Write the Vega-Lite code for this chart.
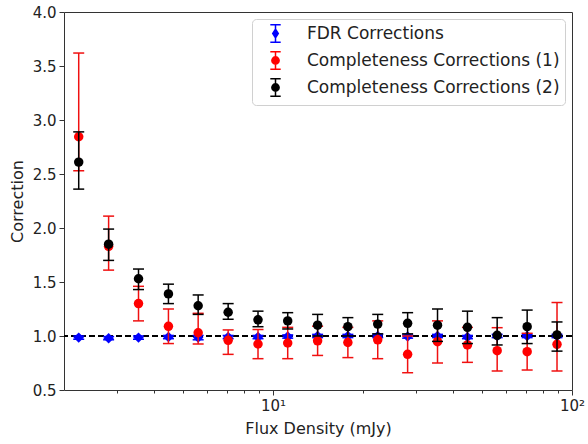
{
  "$schema": "https://vega.github.io/schema/vega-lite/v6.json",
  "width": 508,
  "height": 378,
  "autosize": {"type": "none"},
  "padding": {"left": 64, "top": 12, "right": 16, "bottom": 54},
  "background": "white",
  "config": {
    "font": "DejaVu Sans",
    "view": {"stroke": "#333", "strokeWidth": 1},
    "axis": {"labelFontSize": 15, "titleFontSize": 16, "titleFontWeight": "normal", "labelColor": "#222", "titleColor": "#222", "tickColor": "#333", "domain": false, "grid": false, "labelFont": "DejaVu Sans", "titleFont": "DejaVu Sans"},
    "legend": {"orient": "top-right", "offset": 7, "labelFontSize": 17, "labelFont": "DejaVu Sans", "labelColor": "#222", "symbolSize": 300, "symbolStrokeWidth": 1.5, "strokeColor": "#d0d0d0", "fillColor": "white", "cornerRadius": 4, "padding": 5, "rowPadding": 2, "symbolOffset": 9, "labelOffset": 22, "labelLimit": 400, "symbolOpacity": 1}
  },
  "data": {"values": [
    {"series": "FDR Corrections", "x": 2.24, "y": 0.985, "lo": 0.97, "hi": 1.0},
    {"series": "FDR Corrections", "x": 2.82, "y": 0.98, "lo": 0.965, "hi": 0.995},
    {"series": "FDR Corrections", "x": 3.55, "y": 0.985, "lo": 0.97, "hi": 1.0},
    {"series": "FDR Corrections", "x": 4.47, "y": 0.99, "lo": 0.975, "hi": 1.005},
    {"series": "FDR Corrections", "x": 5.62, "y": 0.985, "lo": 0.965, "hi": 1.005},
    {"series": "FDR Corrections", "x": 7.08, "y": 0.99, "lo": 0.975, "hi": 1.005},
    {"series": "FDR Corrections", "x": 8.91, "y": 0.99, "lo": 0.975, "hi": 1.005},
    {"series": "FDR Corrections", "x": 11.2, "y": 0.995, "lo": 0.98, "hi": 1.01},
    {"series": "FDR Corrections", "x": 14.1, "y": 1.0, "lo": 0.985, "hi": 1.015},
    {"series": "FDR Corrections", "x": 17.8, "y": 1.0, "lo": 0.985, "hi": 1.015},
    {"series": "FDR Corrections", "x": 22.4, "y": 1.0, "lo": 0.985, "hi": 1.015},
    {"series": "FDR Corrections", "x": 28.2, "y": 0.995, "lo": 0.98, "hi": 1.01},
    {"series": "FDR Corrections", "x": 35.5, "y": 1.0, "lo": 0.985, "hi": 1.015},
    {"series": "FDR Corrections", "x": 44.7, "y": 0.99, "lo": 0.975, "hi": 1.005},
    {"series": "FDR Corrections", "x": 56.2, "y": 1.0, "lo": 0.985, "hi": 1.015},
    {"series": "FDR Corrections", "x": 70.8, "y": 1.0, "lo": 0.985, "hi": 1.015},
    {"series": "FDR Corrections", "x": 89.1, "y": 1.0, "lo": 0.985, "hi": 1.015},
    {"series": "Completeness Corrections (1)", "x": 2.24, "y": 2.845, "lo": 2.53, "hi": 3.62},
    {"series": "Completeness Corrections (1)", "x": 2.82, "y": 1.83, "lo": 1.61, "hi": 2.11},
    {"series": "Completeness Corrections (1)", "x": 3.55, "y": 1.3, "lo": 1.14, "hi": 1.46},
    {"series": "Completeness Corrections (1)", "x": 4.47, "y": 1.09, "lo": 0.93, "hi": 1.25},
    {"series": "Completeness Corrections (1)", "x": 5.62, "y": 1.03, "lo": 0.926, "hi": 1.21},
    {"series": "Completeness Corrections (1)", "x": 7.08, "y": 0.96, "lo": 0.83, "hi": 1.056},
    {"series": "Completeness Corrections (1)", "x": 8.91, "y": 0.926, "lo": 0.79, "hi": 1.06},
    {"series": "Completeness Corrections (1)", "x": 11.2, "y": 0.935, "lo": 0.79, "hi": 1.08},
    {"series": "Completeness Corrections (1)", "x": 14.1, "y": 0.955, "lo": 0.82, "hi": 1.09},
    {"series": "Completeness Corrections (1)", "x": 17.8, "y": 0.94, "lo": 0.8, "hi": 1.08},
    {"series": "Completeness Corrections (1)", "x": 22.4, "y": 0.965, "lo": 0.79, "hi": 1.14},
    {"series": "Completeness Corrections (1)", "x": 28.2, "y": 0.83, "lo": 0.66, "hi": 1.0},
    {"series": "Completeness Corrections (1)", "x": 35.5, "y": 0.947, "lo": 0.75, "hi": 1.14},
    {"series": "Completeness Corrections (1)", "x": 44.7, "y": 0.917, "lo": 0.756, "hi": 1.08},
    {"series": "Completeness Corrections (1)", "x": 56.2, "y": 0.864, "lo": 0.676, "hi": 1.077},
    {"series": "Completeness Corrections (1)", "x": 70.8, "y": 0.855, "lo": 0.685, "hi": 1.025},
    {"series": "Completeness Corrections (1)", "x": 89.1, "y": 0.923, "lo": 0.676, "hi": 1.31},
    {"series": "Completeness Corrections (2)", "x": 2.24, "y": 2.61, "lo": 2.36, "hi": 2.89},
    {"series": "Completeness Corrections (2)", "x": 2.82, "y": 1.85, "lo": 1.7, "hi": 1.99},
    {"series": "Completeness Corrections (2)", "x": 3.55, "y": 1.53, "lo": 1.43, "hi": 1.62},
    {"series": "Completeness Corrections (2)", "x": 4.47, "y": 1.39, "lo": 1.3, "hi": 1.48},
    {"series": "Completeness Corrections (2)", "x": 5.62, "y": 1.28, "lo": 1.2, "hi": 1.38},
    {"series": "Completeness Corrections (2)", "x": 7.08, "y": 1.22, "lo": 1.155, "hi": 1.3},
    {"series": "Completeness Corrections (2)", "x": 8.91, "y": 1.15, "lo": 1.086, "hi": 1.23},
    {"series": "Completeness Corrections (2)", "x": 11.2, "y": 1.14, "lo": 1.065, "hi": 1.216},
    {"series": "Completeness Corrections (2)", "x": 14.1, "y": 1.1, "lo": 1.0, "hi": 1.2},
    {"series": "Completeness Corrections (2)", "x": 17.8, "y": 1.086, "lo": 1.0, "hi": 1.17},
    {"series": "Completeness Corrections (2)", "x": 22.4, "y": 1.11, "lo": 1.02, "hi": 1.2},
    {"series": "Completeness Corrections (2)", "x": 28.2, "y": 1.117, "lo": 1.02, "hi": 1.216},
    {"series": "Completeness Corrections (2)", "x": 35.5, "y": 1.1, "lo": 0.95, "hi": 1.25},
    {"series": "Completeness Corrections (2)", "x": 44.7, "y": 1.08, "lo": 0.93, "hi": 1.23},
    {"series": "Completeness Corrections (2)", "x": 56.2, "y": 1.006, "lo": 0.917, "hi": 1.17},
    {"series": "Completeness Corrections (2)", "x": 70.8, "y": 1.086, "lo": 0.93, "hi": 1.24},
    {"series": "Completeness Corrections (2)", "x": 89.1, "y": 1.01, "lo": 0.86, "hi": 1.13}
  ]},
  "layer": [
    {
      "mark": {"type": "rule", "color": "black", "strokeDash": [6, 3], "strokeWidth": 1.8},
      "encoding": {"y": {"datum": 1, "type": "quantitative"}}
    },
    {
      "encoding": {
        "x": {"field": "x", "type": "quantitative", "title": "Flux Density (mJy)",
          "scale": {"type": "log", "domain": [2, 100], "nice": false},
          "axis": {"values": [3, 4, 5, 6, 7, 8, 9, 10, 20, 30, 40, 50, 60, 70, 80, 90, 100],
            "labelExpr": "datum.value == 10 ? '10¹' : (datum.value == 100 ? '10²' : '')",
            "tickSize": {"condition": {"test": "datum.value == 10 || datum.value == 100", "value": 5}, "value": 3},
            "labelPadding": 3, "titlePadding": 7, "labelFlush": false, "labelOverlap": false}},
        "y": {"field": "y", "type": "quantitative", "title": "Correction",
          "scale": {"domain": [0.5, 4.0], "nice": false, "zero": false},
          "axis": {"values": [0.5, 1.0, 1.5, 2.0, 2.5, 3.0, 3.5, 4.0], "format": ".1f", "tickSize": 5, "labelPadding": 3, "titlePadding": 7, "labelFlush": false}}
      },
      "layer": [
        {
          "transform": [{"filter": "datum.series == 'FDR Corrections'"}],
          "layer": [
            {"mark": {"type": "rule", "color": "#0000ff", "strokeWidth": 1.5}, "encoding": {"y": {"field": "lo", "type": "quantitative", "title": "Correction"}, "y2": {"field": "hi"}}},
            {"mark": {"type": "tick", "orient": "horizontal", "color": "#0000ff", "size": 11, "thickness": 1.5, "opacity": 1}, "encoding": {"y": {"field": "lo", "type": "quantitative", "title": "Correction"}}},
            {"mark": {"type": "tick", "orient": "horizontal", "color": "#0000ff", "size": 11, "thickness": 1.5, "opacity": 1}, "encoding": {"y": {"field": "hi", "type": "quantitative", "title": "Correction"}}},
            {"mark": {"type": "point", "shape": "diamond", "filled": true, "color": "#0000ff", "size": 110, "opacity": 1}}
          ]
        },
        {
          "transform": [{"filter": "datum.series == 'Completeness Corrections (1)'"}],
          "layer": [
            {"mark": {"type": "rule", "color": "#f01010", "strokeWidth": 1.5}, "encoding": {"y": {"field": "lo", "type": "quantitative", "title": "Correction"}, "y2": {"field": "hi"}}},
            {"mark": {"type": "tick", "orient": "horizontal", "color": "#f01010", "size": 11, "thickness": 1.5, "opacity": 1}, "encoding": {"y": {"field": "lo", "type": "quantitative", "title": "Correction"}}},
            {"mark": {"type": "tick", "orient": "horizontal", "color": "#f01010", "size": 11, "thickness": 1.5, "opacity": 1}, "encoding": {"y": {"field": "hi", "type": "quantitative", "title": "Correction"}}},
            {"mark": {"type": "point", "shape": "circle", "filled": true, "color": "#ff0000", "size": 90, "opacity": 1}}
          ]
        },
        {
          "transform": [{"filter": "datum.series == 'Completeness Corrections (2)'"}],
          "layer": [
            {"mark": {"type": "rule", "color": "#000000", "strokeWidth": 1.5}, "encoding": {"y": {"field": "lo", "type": "quantitative", "title": "Correction"}, "y2": {"field": "hi"}}},
            {"mark": {"type": "tick", "orient": "horizontal", "color": "#000000", "size": 11, "thickness": 1.5, "opacity": 1}, "encoding": {"y": {"field": "lo", "type": "quantitative", "title": "Correction"}}},
            {"mark": {"type": "tick", "orient": "horizontal", "color": "#000000", "size": 11, "thickness": 1.5, "opacity": 1}, "encoding": {"y": {"field": "hi", "type": "quantitative", "title": "Correction"}}},
            {"mark": {"type": "point", "shape": "circle", "filled": true, "color": "#000000", "size": 90, "opacity": 1}}
          ]
        },
        {
          "mark": {"type": "point", "filled": true, "opacity": 0},
          "encoding": {
            "fill": {"field": "series", "type": "nominal", "title": null,
              "scale": {"domain": ["FDR Corrections", "Completeness Corrections (1)", "Completeness Corrections (2)"], "range": ["#0000ff", "#ff0000", "#000000"]}},
            "stroke": {"field": "series", "type": "nominal", "title": null,
              "scale": {"domain": ["FDR Corrections", "Completeness Corrections (1)", "Completeness Corrections (2)"], "range": ["#0000ff", "#ff0000", "#000000"]}},
            "shape": {"field": "series", "type": "nominal", "title": null,
              "scale": {"domain": ["FDR Corrections", "Completeness Corrections (1)", "Completeness Corrections (2)"],
                "range": [
                  "M0,-0.5L0.32,0L0,0.5L-0.32,0Z M0,-1L0,1 M-0.6,-1L0.6,-1 M-0.6,1L0.6,1",
                  "M-0.42,0A0.42,0.42,0,1,1,0.42,0A0.42,0.42,0,1,1,-0.42,0Z M0,-1L0,1 M-0.6,-1L0.6,-1 M-0.6,1L0.6,1",
                  "M-0.42,0A0.42,0.42,0,1,1,0.42,0A0.42,0.42,0,1,1,-0.42,0Z M0,-1L0,1 M-0.6,-1L0.6,-1 M-0.6,1L0.6,1"
                ]}}
          }
        }
      ]
    }
  ]
}
